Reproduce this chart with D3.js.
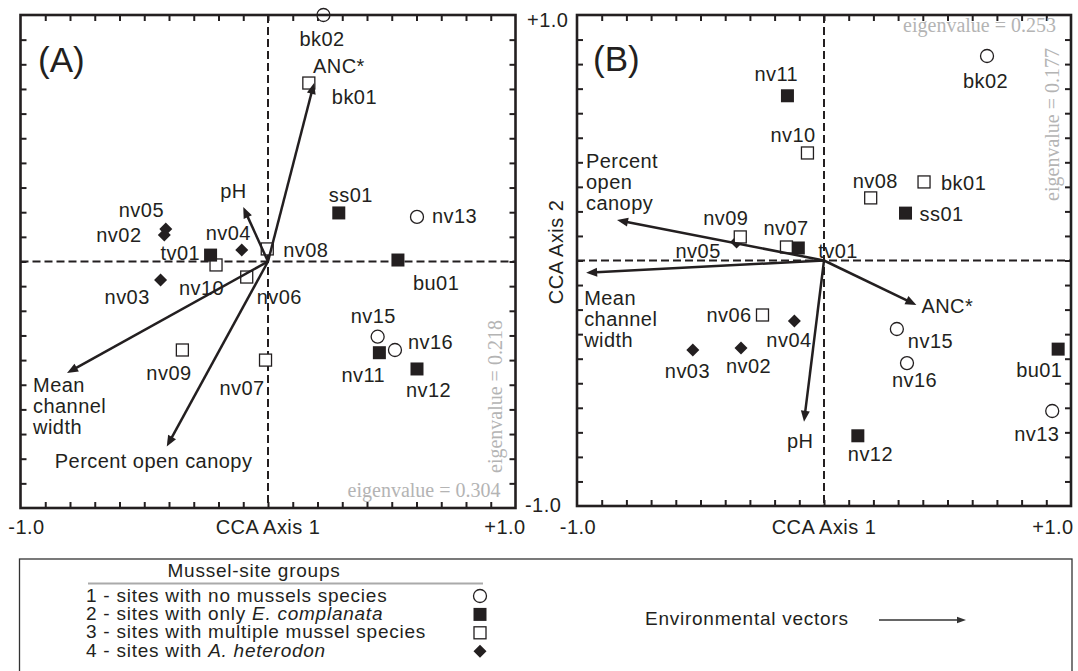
<!DOCTYPE html>
<html>
  <head>
    <script src="https://d3js.org/d3.v7.min.js"></script>
    <style>
      body { margin: 0; background: #fff; }
      svg { font-family: "Liberation Sans", Arial, Helvetica, sans-serif; }
      .frame { fill: none; stroke: #231f20; stroke-width: 2.6px; }
      .zero { stroke: #231f20; stroke-width: 2px; stroke-dasharray: 8,4; }
      .tick line { stroke: #231f20; stroke-width: 2px; }
      .vector { stroke: #231f20; stroke-width: 2.5px; }
      .lbl { font-size: 20px; letter-spacing: 0.45px; fill: #231f20; }
      .leg { font-size: 19px; letter-spacing: 0.75px; fill: #231f20; }
      .eigen { font-family: "Liberation Serif", "Times New Roman", serif; font-size: 20px; fill: #b4b4b4; }
    </style>
  </head>
  <body>
    <svg id="chart" width="1078" height="671"></svg>

    <script>
      // site names and mussel-site group (1 none, 2 E. complanata, 3 multiple, 4 A. heterodon)
      const sites = ["bk01", "bk02", "bu01", "nv02", "nv03", "nv04", "nv05", "nv06", "nv07", "nv08",
                     "nv09", "nv10", "nv11", "nv12", "nv13", "nv15", "nv16", "ss01", "tv01"];
      const groups = [3, 1, 2, 4, 4, 4, 4, 3, 3, 3, 3, 3, 2, 2, 1, 1, 1, 2, 2];

      // panel A site scores
      const axis1A = [0.165, 0.224, 0.525, -0.419, -0.434, -0.106, -0.413, -0.086, -0.010, -0.003,
                      -0.346, -0.210, 0.450, 0.602, 0.602, 0.443, 0.513, 0.286, -0.232];
      const axis2A = [0.724, 1.000, 0.006, 0.108, -0.075, 0.047, 0.132, -0.063, -0.400, 0.051,
                      -0.359, -0.014, -0.370, -0.436, 0.181, -0.305, -0.359, 0.197, 0.026];

      // panel B site scores
      const axis1B = [0.405, 0.660, 0.948, -0.336, -0.531, -0.120, -0.354, -0.249, -0.152, 0.189,
                      -0.339, -0.067, -0.148, 0.137, 0.924, 0.295, 0.336, 0.330, -0.104];
      const axis2B = [0.320, 0.833, -0.361, -0.356, -0.365, -0.246, 0.075, -0.222, 0.055, 0.255,
                      0.096, 0.438, 0.671, -0.714, -0.613, -0.279, -0.418, 0.193, 0.051];

      // environmental vectors
      const vectors = ["ANC*", "pH", "Mean channel width", "Percent open canopy"];
      const vecA1 = [0.186, -0.100, -0.812, -0.409];
      const vecA2 = [0.724, 0.221, -0.452, -0.751];
      const vecB1 = [0.374, -0.081, -0.963, -0.838];
      const vecB2 = [-0.181, -0.657, -0.050, 0.165];

      const eigenA = ["0.304", "0.218"];
      const eigenB = ["0.253", "0.177"];
      const tickLabels = ["-1.0", "+1.0"];
      const tickValues = d3.range(-9, 10).map(i => i / 10);

      const legendRows = [
        ["1 - sites with no mussels species", ""],
        ["2 - sites with only ", "E. complanata"],
        ["3 - sites with multiple mussel species", ""],
        ["4 - sites with ", "A. heterodon"]
      ];

      // label placement (pixels from the mark)
      const siteOffA = {
        bk01: [23, 21], bk02: [-24, 31], bu01: [15, 30], nv02: [-68, 7], nv03: [-56, 24],
        nv04: [-36, -10], nv05: [-47, -12], nv06: [10, 27], nv07: [-46, 35], nv08: [16, 8],
        nv09: [-36, 30], nv10: [-37, 30], nv11: [-38, 29], nv12: [-11, 28], nv13: [15, 6],
        nv15: [-27, -14], nv16: [13, -1], ss01: [-10, -11], tv01: [-50, 5]
      };
      const siteOffB = {
        bk01: [17, 8], bk02: [-24, 32], bu01: [-42, 28], nv02: [-15, 25], nv03: [-28, 28],
        nv04: [-28, 26], nv05: [-61, 16], nv06: [-56, 7], nv07: [-23, -12], nv08: [-18, -10],
        nv09: [-37, -12], nv10: [-37, -11], nv11: [-33, -15], nv12: [-10, 25], nv13: [-38, 30],
        nv15: [11, 19], nv16: [-15, 24], ss01: [14, 8], tv01: [20, 10]
      };
      const vecOffA = [[-1, -10], [-23, -9], [-34, 19], [-112, 21]];
      const vecOffB = [[5, 8], [-17, 26], [-2, 32], [-31, -52]];

      const svg = d3.select("#chart");
      const ink = "#231f20";

      function drawSymbol(g, group, cx, cy) {
        if (group === 1) {
          g.append("circle").attr("cx", cx).attr("cy", cy).attr("r", 6.5)
            .attr("fill", "#fff").attr("stroke", ink).attr("stroke-width", 1.3);
        } else if (group === 2) {
          g.append("rect").attr("x", cx - 6.5).attr("y", cy - 6.5).attr("width", 13).attr("height", 13)
            .attr("fill", ink);
        } else if (group === 3) {
          g.append("rect").attr("x", cx - 6).attr("y", cy - 6).attr("width", 12).attr("height", 12)
            .attr("fill", "#fff").attr("stroke", ink).attr("stroke-width", 1.3);
        } else {
          g.append("path").attr("d", `M${cx},${cy - 6.5}L${cx + 6.5},${cy}L${cx},${cy + 6.5}L${cx - 6.5},${cy}Z`)
            .attr("fill", ink);
        }
      }

      function drawPanel(p) {
        const x = d3.scaleLinear().domain([-1, 1]).range([p.left, p.right]);
        const y = d3.scaleLinear().domain([-1, 1]).range([p.bottom, p.top]);
        const g = svg.append("g");

        // inward ticks on all four sides
        g.append("g").attr("transform", `translate(0,${p.bottom})`)
          .call(d3.axisBottom(x).tickValues(tickValues).tickSize(-6).tickFormat(""));
        g.append("g").attr("transform", `translate(0,${p.top})`)
          .call(d3.axisTop(x).tickValues(tickValues).tickSize(-6).tickFormat(""));
        g.append("g").attr("transform", `translate(${p.left},0)`)
          .call(d3.axisLeft(y).tickValues(tickValues).tickSize(-6).tickFormat(""));
        g.append("g").attr("transform", `translate(${p.right},0)`)
          .call(d3.axisRight(y).tickValues(tickValues).tickSize(-6).tickFormat(""));
        g.selectAll(".domain").remove();

        g.append("line").attr("class", "zero")
          .attr("x1", x(0)).attr("x2", x(0)).attr("y1", p.top).attr("y2", p.bottom);
        g.append("line").attr("class", "zero")
          .attr("x1", p.left).attr("x2", p.right).attr("y1", y(0)).attr("y2", y(0));

        // sites
        sites.forEach((s, i) => {
          const cx = x(p.ax1[i]), cy = y(p.ax2[i]);
          drawSymbol(g, groups[i], cx, cy);
          g.append("text").attr("class", "lbl")
            .attr("x", cx + p.siteOff[s][0]).attr("y", cy + p.siteOff[s][1])
            .text(s);
        });

        // environmental vectors
        vectors.forEach((v, i) => {
          const x0 = x(0), y0 = y(0);
          const tx = x(p.v1[i]), ty = y(p.v2[i]);
          const len = Math.hypot(tx - x0, ty - y0);
          const ux = (tx - x0) / len, uy = (ty - y0) / len;
          const bx = tx - 11 * ux, by = ty - 11 * uy;
          g.append("line").attr("class", "vector")
            .attr("x1", x0).attr("y1", y0).attr("x2", bx + ux).attr("y2", by + uy);
          g.append("path")
            .attr("d", `M${tx},${ty}L${bx - 4.5 * uy},${by + 4.5 * ux}L${bx + 4.5 * uy},${by - 4.5 * ux}Z`)
            .attr("fill", ink);

          // multi-word vector names are stacked, except "Percent open canopy" in panel A
          const words = (i === 2 || (i === 3 && p.multiLine)) ? v.split(" ") : [v];
          const lx = tx + p.vecOff[i][0];
          const t = g.append("text").attr("class", "lbl").attr("x", lx).attr("y", ty + p.vecOff[i][1]);
          words.forEach((w, k) => {
            t.append("tspan").attr("x", lx).attr("dy", k === 0 ? 0 : 21).text(w);
          });
        });

        g.append("rect").attr("class", "frame")
          .attr("x", p.left).attr("y", p.top)
          .attr("width", p.right - p.left).attr("height", p.bottom - p.top);

        g.append("text").attr("x", p.letter[0]).attr("y", p.letter[1])
          .attr("font-size", 35).attr("fill", ink).text(p.name);

        g.append("text").attr("class", "eigen").attr("text-anchor", "end")
          .attr("x", p.eigH[0]).attr("y", p.eigH[1]).text("eigenvalue = " + p.eigen[0]);
        g.append("text").attr("class", "eigen").attr("text-anchor", p.eigV[2])
          .attr("transform", `translate(${p.eigV[0]},${p.eigV[1]}) rotate(-90)`)
          .text("eigenvalue = " + p.eigen[1]);

        g.append("text").attr("class", "lbl").attr("text-anchor", "middle")
          .attr("x", p.xLab[0]).attr("y", 534).text(tickLabels[0]);
        g.append("text").attr("class", "lbl").attr("text-anchor", "middle")
          .attr("x", p.xLab[1]).attr("y", 534).text(tickLabels[1]);
        g.append("text").attr("class", "lbl").attr("text-anchor", "middle")
          .attr("x", x(0)).attr("y", 534).text("CCA Axis 1");
      }

      drawPanel({
        name: "(A)", left: 20.5, right: 515.5, top: 15, bottom: 508,
        ax1: axis1A, ax2: axis2A, v1: vecA1, v2: vecA2,
        siteOff: siteOffA, vecOff: vecOffA, multiLine: false,
        letter: [38, 72], eigen: eigenA, eigH: [500.5, 497], eigV: [502, 473, "start"],
        xLab: [26.5, 505]
      });
      drawPanel({
        name: "(B)", left: 577, right: 1071, top: 15, bottom: 506,
        ax1: axis1B, ax2: axis2B, v1: vecB1, v2: vecB2,
        siteOff: siteOffB, vecOff: vecOffB, multiLine: true,
        letter: [593, 71], eigen: eigenB, eigH: [1056, 32], eigV: [1059, 48, "end"],
        xLab: [578, 1053]
      });

      // y axis labels of panel B
      svg.append("text").attr("class", "lbl").attr("x", 527).attr("y", 27).text(tickLabels[1]);
      svg.append("text").attr("class", "lbl").attr("x", 525).attr("y", 511.5).text(tickLabels[0]);
      svg.append("text").attr("class", "lbl").attr("text-anchor", "middle")
        .attr("transform", "translate(563,252) rotate(-90)").text("CCA Axis 2");

      // legend
      const lg = svg.append("g");
      lg.append("rect").attr("x", 19.5).attr("y", 559).attr("width", 1052.5).attr("height", 140)
        .attr("fill", "none").attr("stroke", "#333").attr("stroke-width", 1.3);
      lg.append("text").attr("class", "leg").attr("text-anchor", "middle")
        .attr("x", 254).attr("y", 577).text("Mussel-site groups");
      lg.append("line").attr("x1", 88).attr("x2", 483).attr("y1", 583.5).attr("y2", 583.5)
        .attr("stroke", "#aaa").attr("stroke-width", 2);
      legendRows.forEach((r, i) => {
        const by = 601.5 + i * 18.4;
        const t = lg.append("text").attr("class", "leg").attr("x", 86).attr("y", by);
        t.append("tspan").text(r[0]);
        if (r[1]) t.append("tspan").attr("font-style", "italic").text(r[1]);
        drawSymbol(lg, i + 1, 480, by - 5.5);
      });
      lg.append("text").attr("class", "leg").attr("x", 645).attr("y", 625).text("Environmental vectors");
      lg.append("line").attr("x1", 879).attr("x2", 958).attr("y1", 620).attr("y2", 620)
        .attr("stroke", "#333").attr("stroke-width", 1.3);
      lg.append("path").attr("d", "M966,620L957,616.8L957,623.2Z").attr("fill", "#333");
    </script>
  </body>
</html>
